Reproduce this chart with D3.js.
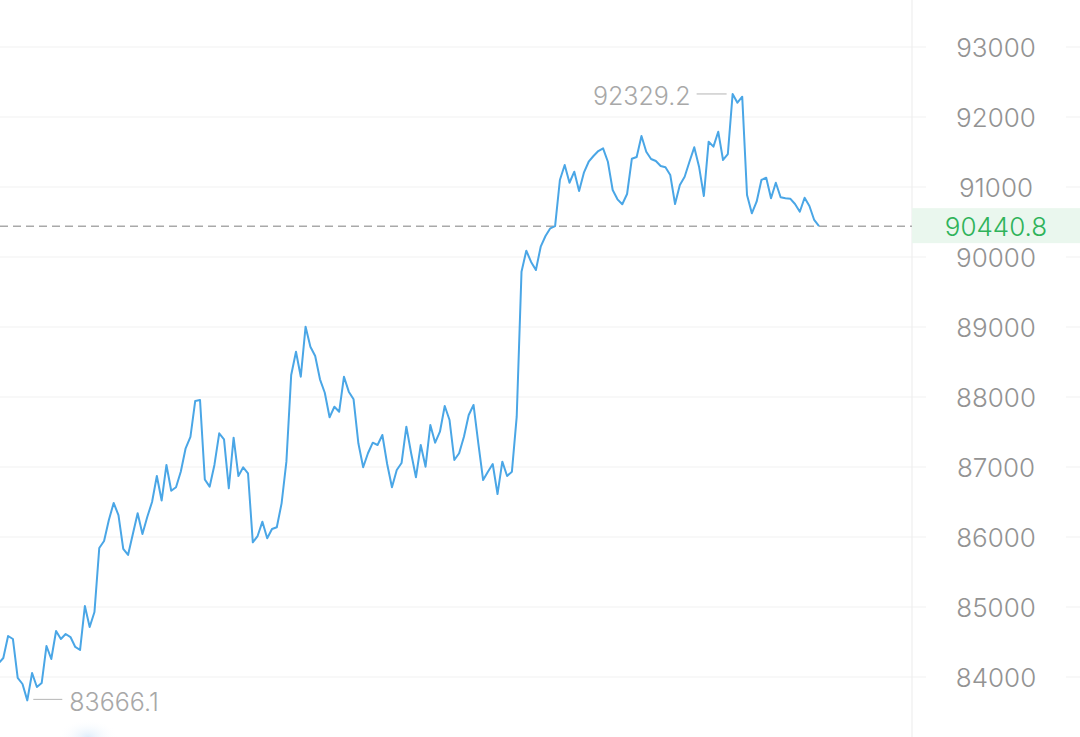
<!DOCTYPE html>
<html>
<head>
<meta charset="utf-8">
<script src="https://cdn.jsdelivr.net/npm/d3@7"></script>
<style>
  html, body { margin: 0; padding: 0; background: #fff; }
  svg { display: block; font-family: Inter, Roboto, sans-serif; font-weight: 300; }
</style>
</head>
<body>
<div id="chart"></div>
<script>
'use strict';
// price series (one point per step)
const prices = [
  84194, 84271, 84586, 84543, 83986, 83900, 83666.1, 84057, 83857, 83914,
  84443, 84257, 84657, 84543, 84614, 84571, 84429, 84386, 85014, 84714,
  84929, 85843, 85943, 86243, 86486, 86314, 85829, 85743, 86043, 86339,
  86043, 86286, 86500, 86871, 86521, 87029, 86661, 86710, 86936, 87267,
  87429, 87943, 87957, 86821, 86719, 87029, 87481, 87396, 86696, 87419,
  86871, 86996, 86910, 85924, 86014, 86219, 85981, 86114, 86139, 86481,
  87076, 88314, 88647, 88290, 89004, 88719, 88586, 88253, 88061, 87710,
  87861, 87790, 88290, 88076, 87967, 87339, 86996, 87196, 87347, 87314,
  87457, 87043, 86710, 86957, 87057, 87576, 87196, 86853, 87314, 87004,
  87600, 87347, 87504, 87871, 87671, 87100, 87196, 87433, 87743, 87886,
  87339, 86814, 86933, 87043, 86614, 87076, 86871, 86933, 87719, 89790,
  90090, 89929, 89814, 90147, 90300, 90410, 90440, 91100, 91314, 91061,
  91219, 90943, 91204, 91361, 91443, 91514, 91553, 91361, 90957, 90824,
  90753, 90900, 91404, 91429, 91729, 91504, 91400, 91371, 91300, 91281,
  91171, 90757, 91029, 91147, 91361, 91567, 91290, 90871, 91647, 91576,
  91790, 91386, 91471, 92329.2, 92204, 92290, 90886, 90624, 90790, 91100,
  91133, 90839, 91061, 90853, 90839, 90833, 90757, 90647, 90847, 90729,
  90529, 90440.8
];
const yTicks = [84000, 85000, 86000, 87000, 88000, 89000, 90000, 91000, 92000, 93000];
const lastPrice = 90440.8;
const maxPrice = d3.max(prices);
const minPrice = d3.min(prices);

const width = 1080, height = 737;
const plotRight = 912;

const x = d3.scaleLinear().domain([0, prices.length - 1]).range([-1.5, 819]);
const y = d3.scaleLinear().domain([84000, 93000]).range([677, 47]);

const svg = d3.select("#chart").append("svg")
  .attr("width", width)
  .attr("height", height)
  .attr("viewBox", [0, 0, width, height]);

// soft glow near the bottom left
const defs = svg.append("defs");
const glow = defs.append("radialGradient").attr("id", "glow");
glow.append("stop").attr("offset", "0%").attr("stop-color", "#dcecfb").attr("stop-opacity", 0.9);
glow.append("stop").attr("offset", "100%").attr("stop-color", "#ffffff").attr("stop-opacity", 0);
svg.append("ellipse")
  .attr("cx", 88).attr("cy", 737).attr("rx", 30).attr("ry", 18)
  .attr("fill", "url(#glow)");

// grid
svg.append("g")
  .selectAll("line")
  .data(yTicks)
  .join("line")
  .attr("x1", 0).attr("x2", width)
  .attr("y1", d => y(d)).attr("y2", d => y(d))
  .attr("stroke", "#f1f1f1")
  .attr("stroke-width", 1);

svg.append("line")
  .attr("x1", plotRight).attr("x2", plotRight)
  .attr("y1", 0).attr("y2", height)
  .attr("stroke", "#efefef")
  .attr("stroke-width", 1.2);

// axis labels
const axis = svg.append("g").selectAll("g").data(yTicks).join("g")
  .attr("transform", d => `translate(996,${y(d)})`);
axis.append("rect")
  .attr("x", -70).attr("y", -16).attr("width", 140).attr("height", 32)
  .attr("fill", "#fff");
axis.append("text")
  .attr("text-anchor", "middle")
  .attr("dominant-baseline", "central")
  .attr("fill", "#939393")
  .attr("font-size", 26)
  .text(d => d);

// last price line and tag
svg.append("line")
  .attr("x1", 0).attr("x2", plotRight + 12)
  .attr("y1", y(lastPrice)).attr("y2", y(lastPrice))
  .attr("stroke", "#a9a9a9")
  .attr("stroke-width", 1.5)
  .attr("stroke-dasharray", "8,5");

svg.append("rect")
  .attr("x", plotRight).attr("y", y(lastPrice) - 18)
  .attr("width", width - plotRight).attr("height", 35)
  .attr("fill", "#eaf7ee");
svg.append("text")
  .attr("x", 996).attr("y", y(lastPrice))
  .attr("text-anchor", "middle")
  .attr("dominant-baseline", "central")
  .attr("fill", "#2fb35a")
  .attr("font-size", 26)
  .text(lastPrice.toFixed(1));

// price line
const line = d3.line()
  .x((d, i) => x(i))
  .y(d => y(d));

svg.append("path")
  .datum(prices)
  .attr("fill", "none")
  .attr("stroke", "#4aa6e6")
  .attr("stroke-width", 2)
  .attr("stroke-linejoin", "round")
  .attr("d", line);

// max / min markers
const iMax = prices.indexOf(maxPrice);
const iMin = prices.indexOf(minPrice);

svg.append("line")
  .attr("x1", x(iMax) - 6).attr("x2", x(iMax) - 36)
  .attr("y1", y(maxPrice)).attr("y2", y(maxPrice))
  .attr("stroke", "#b5b5b5").attr("stroke-width", 1);
svg.append("text")
  .attr("x", x(iMax) - 42).attr("y", y(maxPrice) + 2)
  .attr("text-anchor", "end")
  .attr("dominant-baseline", "central")
  .attr("fill", "#a8a8a8")
  .attr("font-size", 25)
  .text(maxPrice.toFixed(1));

svg.append("line")
  .attr("x1", x(iMin) + 6).attr("x2", x(iMin) + 35)
  .attr("y1", y(minPrice) - 1).attr("y2", y(minPrice) - 1)
  .attr("stroke", "#b5b5b5").attr("stroke-width", 1);
svg.append("text")
  .attr("x", x(iMin) + 42).attr("y", y(minPrice) + 2)
  .attr("text-anchor", "start")
  .attr("dominant-baseline", "central")
  .attr("fill", "#a8a8a8")
  .attr("font-size", 25)
  .text(minPrice.toFixed(1));
</script>
</body>
</html>
